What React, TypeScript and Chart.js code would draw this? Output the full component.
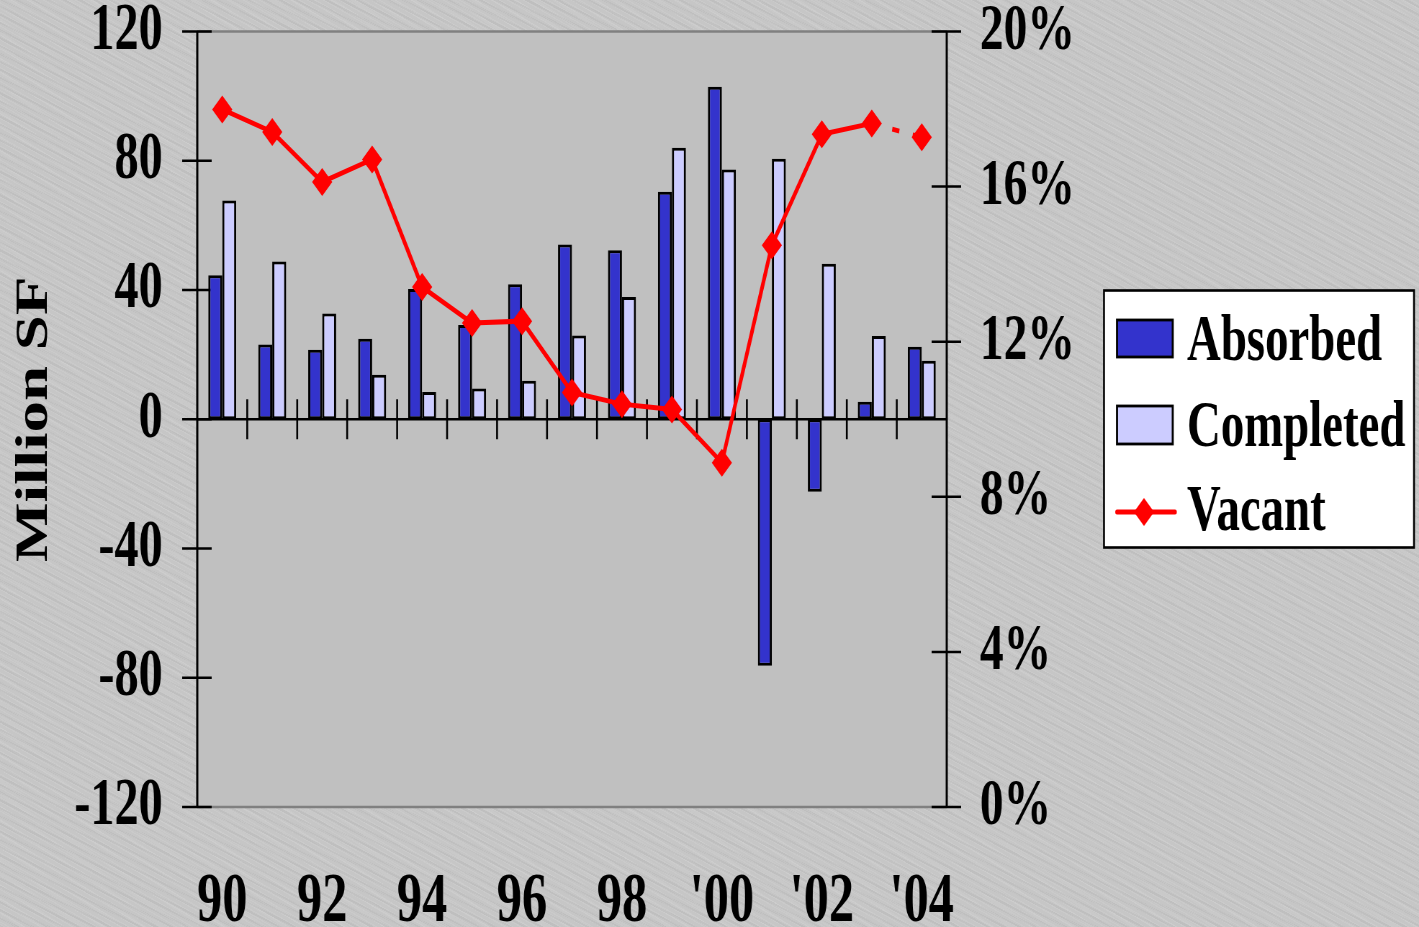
import { useEffect, useRef } from 'react';
import { Chart, registerables } from 'chart.js';

Chart.register(...registerables);

// ---- data ----
const years = [1990, 1991, 1992, 1993, 1994, 1995, 1996, 1997, 1998, 1999, 2000, 2001, 2002, 2003, 2004];
const yearTickLabels = ['90', '91', '92', '93', '94', '95', '96', '97', '98', '99', "'00", "'01", "'02", "'03", "'04"];

// million square feet
const absorbed = [44.6, 23.1, 21.5, 24.9, 40.3, 29.2, 41.8, 54.1, 52.3, 70.4, 102.9, -76.3, -22.4, 5.4, 22.4];
const completed = [67.7, 48.8, 32.7, 13.8, 8.4, 9.5, 11.9, 25.9, 37.8, 84.0, 77.3, 80.6, 48.1, 25.8, 18.1];
// vacancy rate, percent
const vacant = [17.99, 17.41, 16.12, 16.7, 13.41, 12.48, 12.53, 10.69, 10.39, 10.25, 8.88, 14.49, 17.35, 17.63, 17.27];

const leftAxisRange = [-120, 120];
const leftAxisStep = 40;
const rightAxisRange = [0, 20];
const rightAxisStep = 4;

// ---- drawing setup ----
// The canvas is rendered wider than it is displayed, which gives the narrow,
// condensed lettering of the original slide.
const CSS_W = 1419;
const CSS_H = 927;
const PX_W = 1971;
const K = CSS_W / PX_W;
const px = (cssX: number) => cssX / K;

const SERIF = '"Liberation Serif", "Times New Roman", serif';
const BLUE = '#3333CC';
const LAVENDER = '#CCCCFF';
const RED = '#FF0000';

const PLOT_LEFT = Math.round(px(197));
const PLOT_RIGHT = Math.round(px(947));

const chartFrame = {
  id: 'chartFrame',
  beforeDraw(chart: any) {
    const { ctx, chartArea: a } = chart;
    ctx.save();
    ctx.fillStyle = '#C0C0C0';
    ctx.fillRect(a.left, a.top, a.right - a.left, a.bottom - a.top);
    ctx.restore();
  },
  beforeDatasetsDraw(chart: any) {
    const { ctx, chartArea: a, scales } = chart;
    const yL = scales.yL;
    const yR = scales.yR;
    const x = scales.x;
    ctx.save();
    ctx.lineCap = 'butt';

    // top and bottom edges of the plot area
    ctx.strokeStyle = '#808080';
    ctx.lineWidth = 2.5;
    ctx.beginPath();
    ctx.moveTo(a.left, a.top);
    ctx.lineTo(a.right, a.top);
    ctx.moveTo(a.left, a.bottom);
    ctx.lineTo(a.right, a.bottom);
    ctx.stroke();

    ctx.strokeStyle = '#000000';

    // vertical axis lines
    ctx.lineWidth = 3;
    ctx.beginPath();
    ctx.moveTo(a.left, a.top);
    ctx.lineTo(a.left, a.bottom);
    ctx.moveTo(a.right, a.top);
    ctx.lineTo(a.right, a.bottom);
    ctx.stroke();

    // tick marks crossing both vertical axes
    ctx.lineWidth = 2.5;
    ctx.beginPath();
    yL.ticks.forEach((t: any) => {
      const y = yL.getPixelForValue(t.value);
      ctx.moveTo(a.left - 21, y);
      ctx.lineTo(a.left + 20, y);
    });
    yR.ticks.forEach((t: any) => {
      const y = yR.getPixelForValue(t.value);
      ctx.moveTo(a.right - 21, y);
      ctx.lineTo(a.right + 20, y);
    });
    ctx.stroke();

    // category axis running along zero
    const y0 = yL.getPixelForValue(0);
    ctx.lineWidth = 2.6;
    ctx.beginPath();
    ctx.moveTo(a.left, y0);
    ctx.lineTo(a.right, y0);
    ctx.stroke();

    ctx.lineWidth = 2.6;
    ctx.beginPath();
    for (let i = 0; i < years.length - 1; i++) {
      const bx = (x.getPixelForValue(i) + x.getPixelForValue(i + 1)) / 2;
      ctx.moveTo(bx, y0 - 20);
      ctx.lineTo(bx, y0 + 20);
    }
    ctx.stroke();
    ctx.restore();
  },
  afterDraw(chart: any) {
    const { ctx } = chart;
    const ds = chart.data.datasets;
    const byLabel = (name: string) => ds.find((d: any) => d.label === name);
    ctx.save();

    // legend box
    const bx = px(1104);
    const by = 290.5;
    const bw = px(1414) - bx;
    const bh = 547.5 - by;
    ctx.fillStyle = '#FFFFFF';
    ctx.fillRect(bx, by, bw, bh);
    ctx.strokeStyle = '#000000';
    ctx.lineWidth = 2.6;
    ctx.strokeRect(bx, by, bw, bh);

    const sx = px(1117);
    const sw = px(1172.7) - sx;
    const tx = px(1187);
    ctx.font = `bold 65px ${SERIF}`;
    ctx.textAlign = 'left';
    ctx.textBaseline = 'alphabetic';

    const bars = [
      { d: byLabel('Absorbed'), top: 320, bottom: 357, base: 360 },
      { d: byLabel('Completed'), top: 406, bottom: 444, base: 445.5 },
    ];
    bars.forEach((b) => {
      ctx.fillStyle = b.d.backgroundColor;
      ctx.fillRect(sx, b.top, sw, b.bottom - b.top);
      ctx.strokeStyle = '#000000';
      ctx.lineWidth = 2.8;
      ctx.strokeRect(sx, b.top, sw, b.bottom - b.top);
      ctx.fillStyle = '#000000';
      ctx.fillText(b.d.label, tx, b.base);
    });

    const v = byLabel('Vacant');
    const ly = 512;
    ctx.strokeStyle = v.borderColor;
    ctx.lineWidth = 5;
    ctx.lineCap = 'round';
    ctx.beginPath();
    ctx.moveTo(px(1117), ly);
    ctx.lineTo(px(1175), ly);
    ctx.stroke();
    const cx = px(1144);
    const r = 14;
    ctx.fillStyle = v.pointBackgroundColor;
    ctx.beginPath();
    ctx.moveTo(cx, ly - r);
    ctx.lineTo(cx + r, ly);
    ctx.lineTo(cx, ly + r);
    ctx.lineTo(cx - r, ly);
    ctx.closePath();
    ctx.fill();
    ctx.fillStyle = '#000000';
    ctx.fillText(v.label, tx, 530);

    ctx.restore();
  },
};

export default function App() {
  const canvasRef = useRef<HTMLCanvasElement>(null);

  useEffect(() => {
    const canvas = canvasRef.current;
    if (!canvas) return;

    const tickFont = (size: number) => ({ family: SERIF, size, weight: 'bold' as const, lineHeight: 0.9 });

    const chart = new Chart(canvas, {
      type: 'bar',
      data: {
        labels: years.map(String),
        datasets: [
          {
            type: 'line',
            label: 'Vacant',
            data: vacant,
            yAxisID: 'yR',
            order: 0,
            borderColor: RED,
            backgroundColor: RED,
            borderWidth: 5,
            tension: 0,
            pointStyle: 'rectRot',
            pointRadius: 14,
            pointBackgroundColor: RED,
            pointBorderColor: RED,
            pointBorderWidth: 0,
            segment: {
              borderDash: (c: any) => (c.p0DataIndex === 13 ? [10, 19] : undefined),
            },
          } as any,
          {
            type: 'bar',
            label: 'Absorbed',
            data: absorbed,
            yAxisID: 'yL',
            order: 1,
            backgroundColor: BLUE,
            borderColor: '#000000',
            borderWidth: 3,
            borderSkipped: false,
            categoryPercentage: 0.56,
            barPercentage: 1,
          },
          {
            type: 'bar',
            label: 'Completed',
            data: completed,
            yAxisID: 'yL',
            order: 1,
            backgroundColor: LAVENDER,
            borderColor: '#000000',
            borderWidth: 3,
            borderSkipped: false,
            categoryPercentage: 0.56,
            barPercentage: 1,
          },
        ],
      },
      options: {
        responsive: false,
        maintainAspectRatio: false,
        devicePixelRatio: 1,
        animation: false,
        events: [],
        layout: { padding: { top: 31.5, left: 0, right: 0, bottom: 0 } },
        plugins: {
          legend: { display: false },
          tooltip: { enabled: false },
        },
        scales: {
          x: {
            type: 'category',
            offset: true,
            grid: { display: false, drawTicks: false },
            border: { display: false },
            ticks: {
              autoSkip: false,
              maxRotation: 0,
              minRotation: 0,
              padding: 64,
              color: '#000000',
              font: tickFont(70),
              callback: (_v: any, i: number) => (i % 2 === 0 ? yearTickLabels[i] : ''),
            },
            afterFit: (s: any) => {
              s.height = CSS_H - 807;
            },
          },
          yL: {
            type: 'linear',
            position: 'left',
            min: leftAxisRange[0],
            max: leftAxisRange[1],
            // the (hidden) tick length keeps the labels clear of the axis
            grid: { display: false, drawTicks: true, tickLength: 48 },
            border: { display: false },
            ticks: {
              stepSize: leftAxisStep,
              padding: 0,
              color: '#000000',
              font: tickFont(67),
              callback: (v: any) => String(v),
            },
            title: {
              display: true,
              text: 'Million SF',
              color: '#000000',
              font: { family: SERIF, size: 63, weight: 'bold', lineHeight: 1.2 },
              padding: { top: 11, bottom: 0 },
            },
            afterFit: (s: any) => {
              s.width = PLOT_LEFT;
            },
          },
          yR: {
            type: 'linear',
            position: 'right',
            min: rightAxisRange[0],
            max: rightAxisRange[1],
            grid: { display: false, drawTicks: true, tickLength: 46 },
            border: { display: false },
            ticks: {
              stepSize: rightAxisStep,
              padding: 0,
              color: '#000000',
              font: tickFont(66),
              callback: (v: any) => `${v}%`,
            },
            afterFit: (s: any) => {
              s.width = PX_W - PLOT_RIGHT;
            },
          },
        },
      },
      plugins: [chartFrame],
    } as any);

    return () => chart.destroy();
  }, []);

  const brushed =
    'repeating-linear-gradient(30deg, rgba(255,255,255,0.07) 0px, rgba(255,255,255,0.07) 1px, rgba(255,255,255,0) 1px, rgba(255,255,255,0) 4px),' +
    'repeating-linear-gradient(27deg, rgba(0,0,0,0.035) 0px, rgba(0,0,0,0.035) 2px, rgba(0,0,0,0) 2px, rgba(0,0,0,0) 7px),' +
    'repeating-linear-gradient(33deg, rgba(255,255,255,0.05) 0px, rgba(255,255,255,0.05) 3px, rgba(255,255,255,0) 3px, rgba(255,255,255,0) 11px),' +
    '#C6C6C6';

  return (
    <div
      style={{
        position: 'fixed',
        left: 0,
        top: 0,
        width: CSS_W,
        height: CSS_H,
        overflow: 'hidden',
        background: brushed,
      }}
    >
      <canvas
        ref={canvasRef}
        width={PX_W}
        height={CSS_H}
        style={{ display: 'block', width: `${CSS_W}px`, height: `${CSS_H}px` }}
      />
    </div>
  );
}
